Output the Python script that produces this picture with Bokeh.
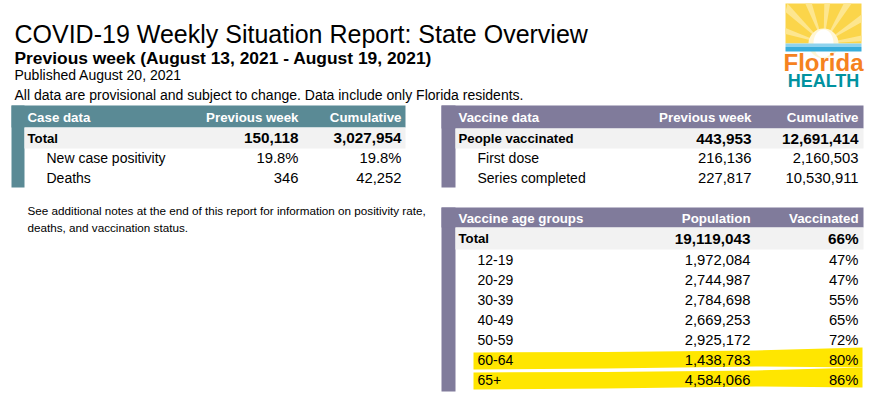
import numpy as np
from bokeh.plotting import figure
from bokeh.core.properties import value
from bokeh.embed import file_html
from bokeh.resources import INLINE

# ---------------- data ----------------
title = "COVID-19 Weekly Situation Report: State Overview"
subtitle = "Previous week (August 13, 2021 - August 19, 2021)"
published = "Published August 20, 2021"
disclaimer = "All data are provisional and subject to change. Data include only Florida residents."
note_lines = ["See additional notes at the end of this report for information on positivity rate,",
              "deaths, and vaccination status."]

case_cols = ["Case data", "Previous week", "Cumulative"]
case_rows = ["Total", "New case positivity", "Deaths"]
case_prev = ["150,118", "19.8%", "346"]
case_cum = ["3,027,954", "19.8%", "42,252"]

vax_cols = ["Vaccine data", "Previous week", "Cumulative"]
vax_rows = ["People vaccinated", "First dose", "Series completed"]
vax_prev = [443953, 216136, 227817]
vax_cum = [12691414, 2160503, 10530911]

age_cols = ["Vaccine age groups", "Population", "Vaccinated"]
age_rows = ["Total", "12-19", "20-29", "30-39", "40-49", "50-59", "60-64", "65+"]
age_pop = [19119043, 1972084, 2744987, 2784698, 2669253, 2925172, 1438783, 4584066]
age_pct = [66, 47, 47, 55, 65, 72, 80, 86]
highlighted = ["60-64", "65+"]

# ---------------- styles ----------------
FONT = "Liberation Sans"
TEAL = "#5a8a95"
PURPLE = "#807b9b"
GRAY = "#f2f2f2"
YELLOW = "#ffe600"

p = figure(width=870, height=400, x_range=(0, 870), y_range=(400, 0),
           output_backend="svg", toolbar_location=None, min_border=0,
           outline_line_color=None, background_fill_color="white")
p.axis.visible = False
p.grid.visible = False


def txt(x, y, s, size, color="black", bold=False, align="left", font=FONT, baseline="middle"):
    p.text(x=x, y=y, text=s if isinstance(s, list) else [s],
           text_font=value(font), text_font_size=value(f"{size}px"),
           text_font_style="bold" if bold else "normal",
           text_color=color, text_align=align, text_baseline=baseline)


# ---------------- header texts ----------------
txt([14], [33], title, 25, baseline="alphabetic")
txt([14], [57], subtitle, 17.4, bold=True, baseline="alphabetic")
txt([14], [74], published, 14, baseline="alphabetic")
txt([14], [94], disclaimer, 14, baseline="alphabetic")
txt([27, 27], [210, 227], note_lines, 11.7)


# ---------------- tables ----------------
def draw_table(xl, xi, xr, ytop, hh, th, rh, cols, labels, v1, v2, c1, c2, color,
               pad_bottom=0, hi=()):
    n_sub = len(labels) - 1
    ybot = ytop + hh + th + rh * n_sub + pad_bottom
    p.quad(left=[xl], right=[xi], top=[ytop], bottom=[ybot], fill_color=color, line_color=None)
    p.quad(left=[xl], right=[xr], top=[ytop], bottom=[ytop + hh], fill_color=color, line_color=None)
    p.quad(left=[xi], right=[xr], top=[ytop + hh], bottom=[ytop + hh + th], fill_color=GRAY, line_color=None)
    for i, lab in enumerate(labels[1:]):
        if lab in hi:
            t = ytop + hh + th + rh * i
            b = t + rh
            xs = [xi + 18, xi + 150, xi + 300, xr - 1, xr - 1, xi + 300, xi + 150, xi + 18]
            ys = [t + 3, t + 2.5, t + 1, t - 2, b - 2, b - 3, b - 1, b]
            p.patch(x=xs, y=ys, fill_color=YELLOW, line_color=None)
    yh = ytop + hh / 2 + 0.5
    txt([xi + 3], [yh], cols[0], 13.3, color="white", bold=True)
    txt([c1, c2], [yh, yh], cols[1:], 13.3, color="white", bold=True, align="right")
    yt = ytop + hh + th / 2
    txt([xi + 3], [yt], labels[0], 13.2, bold=True)
    txt([c1, c2], [yt, yt], [v1[0], v2[0]], 15.3, bold=True, align="right")
    ys = [ytop + hh + th + rh * (i + 0.5) for i in range(n_sub)]
    txt([xi + 22] * n_sub, ys, labels[1:], 14)
    txt([c1] * n_sub, ys, v1[1:], 14.8, align="right")
    txt([c2] * n_sub, ys, v2[1:], 14.8, align="right")


fmt = lambda v: f"{v:,}"
draw_table(11, 24, 405, 105, 22, 21, 19.5, case_cols, case_rows, case_prev, case_cum,
           298, 401, TEAL)
draw_table(441, 455, 863, 105, 23, 20, 19.5, vax_cols, vax_rows,
           [fmt(v) for v in vax_prev], [fmt(v) for v in vax_cum], 751, 858, PURPLE)
draw_table(441, 455, 863, 207, 20, 22, 20, age_cols, age_rows,
           [fmt(v) for v in age_pop], [f"{v}%" for v in age_pct], 750, 858, PURPLE,
           pad_bottom=2, hi=highlighted)

# ---------------- logo ----------------
LX0, LX1, LTOP, HOR = 785, 861, 3, 43
CX = (LX0 + LX1) / 2
p.quad(left=[LX0], right=[LX1], top=[LTOP], bottom=[HOR], fill_color="#fbd54a", line_color=None)
ang = np.linspace(0, np.pi, 15)
rx, ry = [], []
for a0, a1 in zip(ang[:-1:2] + 0.06, ang[1::2] - 0.02):
    pts_x, pts_y = [CX], [HOR]
    for a in (a0, a1):
        dx, dy = np.cos(a), -np.sin(a)
        t = min((HOR - LTOP) / max(-dy, 1e-6), (LX1 - CX) / max(abs(dx), 1e-6))
        pts_x.append(CX + dx * t)
        pts_y.append(HOR + dy * t)
    rx.append(pts_x)
    ry.append(pts_y)
p.patches(xs=rx, ys=ry, fill_color="#fde68f", line_color=None)
p.ellipse(x=[CX], y=[HOR], width=[30], height=[30], fill_color="#fff6d5", line_color=None)
p.ellipse(x=[CX], y=[HOR], width=[20], height=[28], fill_color="white", line_color=None)
p.quad(left=[LX0], right=[LX1], top=[HOR], bottom=[HOR + 3.5], fill_color="#8fd3ee", line_color=None)
p.quad(left=[LX0], right=[LX1], top=[HOR + 3.5], bottom=[HOR + 8], fill_color="#39aedb", line_color=None)
txt([CX], [62], "Florida", 24, color="#f5821f", bold=True, align="center", baseline="alphabetic")
txt([CX], [80], "HEALTH", 18, color="#00929f", bold=True, align="center", baseline="alphabetic")

open("out.html", "w").write(file_html(p, INLINE))
